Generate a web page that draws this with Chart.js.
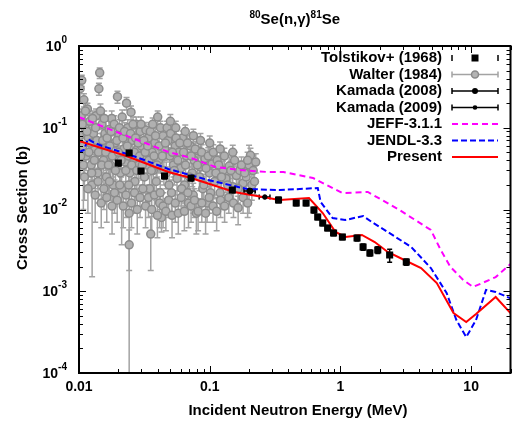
<!DOCTYPE html>
<html>
<head>
<meta charset="utf-8">
<script src="https://cdn.jsdelivr.net/npm/chart.js@4.4.1/dist/chart.umd.min.js"></script>
<style>
  body { margin: 0; background: #fff; }
  #wrap { width: 516px; height: 427px; }
</style>
</head>
<body>
<div id="wrap"><canvas id="xs" width="516" height="427"></canvas></div>
<script>
// energies in MeV, cross sections in barns

var jeffE  = [0.01, 0.0203, 0.0483, 0.072, 0.111, 0.171, 0.273, 0.366, 0.616, 1.035, 1.62, 2.83, 4.92, 5.85, 6.95, 8.71, 10.35, 12.3, 15.4, 20];
var jeffXS = [0.135, 0.0863, 0.0505, 0.0427, 0.0331, 0.0304, 0.0288, 0.0288, 0.0243, 0.0159, 0.0164, 0.00986, 0.00561, 0.0032, 0.00198, 0.00137, 0.00113, 0.00127, 0.00149, 0.00215];

var jendlE  = [0.01, 0.0109, 0.0117, 0.0132, 0.0151, 0.0273, 0.0483, 0.0966, 0.193, 0.342, 0.671, 0.705, 0.871, 1.09, 1.49, 1.74, 2.30, 3.48, 4.92, 6.49, 7.71, 9.17, 10.9, 13.0, 15.4, 20];
var jendlXS = [0.0505, 0.0534, 0.0728, 0.0651, 0.0598, 0.0439, 0.0313, 0.0230, 0.0178, 0.0173, 0.0183, 0.0124, 0.00787, 0.00744, 0.00832, 0.00703, 0.00531, 0.00348, 0.00192, 0.000953, 0.000445, 0.000275, 0.000445, 0.00104, 0.00098, 0.00082];

var presentE  = [0.01, 0.023, 0.0483, 0.072, 0.154, 0.23, 0.342, 0.575, 0.732, 0.917, 1.09, 1.46, 1.83, 2.30, 3.08, 4.14, 5.46, 7.33, 9.17, 10.9, 15.4, 20];
var presentXS = [0.0689, 0.0451, 0.0288, 0.0243, 0.0164, 0.0146, 0.0131, 0.0138, 0.00906, 0.00531, 0.00461, 0.00488, 0.0040, 0.00302, 0.00241, 0.00192, 0.00126, 0.000542, 0.000421, 0.000527, 0.000851, 0.00054];

var tolE   = [0.020, 0.0242, 0.0298, 0.0451, 0.072, 0.149, 0.336, 0.459, 0.546, 0.627, 0.67, 0.732, 0.798, 0.886, 1.035, 1.34, 1.49, 1.68, 1.93, 2.38, 3.19];
var tolXS  = [0.0371, 0.0491, 0.0296, 0.0257, 0.0243, 0.0173, 0.0131, 0.012, 0.012, 0.00986, 0.00809, 0.00684, 0.00594, 0.00516, 0.00461, 0.00448, 0.00348, 0.00294, 0.0032, 0.00277, 0.00228];
var tolErr = [0.003, 0.004, 0.0025, 0.002, 0.002, 0.0013, 0.001, 0.0009, 0.0009, 0.0008, 0.0006, 0.0005, 0.00045, 0.0004, 0.00035, 0.00035, 0.0003, 0.00025, 0.0003, 0.0005, 0.0002];

var kam08E = [0.203], kam08XS = [0.0168], kam08dE = [0.02];
var kam09E = [0.264], kam09XS = [0.0142], kam09dE = [0.025];

var walterE = [0.0102, 0.0104, 0.0105, 0.0107, 0.0109, 0.0111, 0.0113, 0.0116, 0.0118, 0.0121, 0.0124, 0.0126, 0.0129, 0.0132, 0.0135, 0.0139, 0.0142, 0.0144, 0.0147, 0.0150,
  0.0154, 0.0158, 0.0162, 0.0166, 0.0170, 0.0174, 0.0178, 0.0183, 0.0188, 0.0193, 0.0197, 0.0202, 0.0207, 0.0212, 0.0214, 0.0220, 0.0226, 0.0231, 0.0236, 0.0242, 0.0242,
  0.0245, 0.0250, 0.0256, 0.0262, 0.0268, 0.0274, 0.0280, 0.0287, 0.0294, 0.0301, 0.0309, 0.0317, 0.0325, 0.0331, 0.0339, 0.0347, 0.0354, 0.0362, 0.0370, 0.0380,
  0.0390, 0.0400, 0.0406, 0.0414, 0.0428, 0.0440, 0.0452, 0.0465, 0.0480, 0.0495, 0.0510, 0.0528, 0.0545, 0.0562, 0.0580, 0.0600, 0.0620, 0.0642, 0.0665, 0.0688,
  0.0710, 0.0735, 0.0760, 0.0790, 0.0820, 0.0850, 0.0885, 0.0920, 0.0955, 0.0995, 0.1040, 0.1090, 0.1140, 0.1200, 0.1260, 0.1330, 0.1410, 0.1500, 0.1600, 0.1700,
  0.1800, 0.1900, 0.2000, 0.2050, 0.2100,
  0.0101, 0.0103, 0.0106, 0.0108, 0.0112, 0.0115, 0.0119, 0.0123, 0.0127, 0.0131, 0.0134, 0.0137, 0.0141, 0.0146, 0.0149, 0.0152, 0.0156, 0.0160, 0.0164, 0.0168,
  0.0172, 0.0176, 0.0180, 0.0186, 0.0190, 0.0195, 0.0200, 0.0204, 0.0210, 0.0217, 0.0223, 0.0228, 0.0234, 0.0239, 0.0248, 0.0253, 0.0259, 0.0265, 0.0271, 0.0277,
  0.0284, 0.0291, 0.0298, 0.0305, 0.0313, 0.0321, 0.0335, 0.0343, 0.0351, 0.0358, 0.0366, 0.0375, 0.0385, 0.0395, 0.0410, 0.0420, 0.0434, 0.0446, 0.0458, 0.0472,
  0.0488, 0.0502, 0.0518, 0.0536, 0.0553, 0.0571, 0.0590, 0.0610, 0.0631, 0.0653, 0.0676, 0.0699, 0.0722, 0.0748, 0.0775, 0.0805, 0.0835, 0.0867, 0.0902, 0.0937,
  0.0975, 0.1015, 0.1065, 0.1115, 0.1170, 0.1230, 0.1295, 0.1370, 0.1450, 0.1550, 0.1650, 0.1750, 0.1850, 0.1950, 0.2150, 0.2200, 0.2250,
  0.050, 0.055, 0.065, 0.075, 0.085, 0.100, 0.120, 0.150,
  0.0110, 0.0117, 0.0125, 0.0133, 0.0140, 0.0148, 0.0155, 0.0163, 0.0171, 0.0179, 0.0187, 0.0196, 0.0205, 0.0218, 0.0229, 0.0240, 0.0252, 0.0266, 0.0279, 0.0293,
  0.0308, 0.0323, 0.0340, 0.0360, 0.0378, 0.0398, 0.0418, 0.0440, 0.0462, 0.0485, 0.0515, 0.0545, 0.0575, 0.0605, 0.0640, 0.0680, 0.0720, 0.0765, 0.0815, 0.0870,
  0.0930, 0.0990, 0.1060, 0.1130, 0.1210, 0.1300, 0.1400, 0.1520, 0.1650, 0.1800, 0.1950];
var walterXS = [0.30, 0.14, 0.38, 0.06, 0.22, 0.10, 0.045, 0.17, 0.075, 0.12, 0.035, 0.020, 0.085, 0.055, 0.14, 0.028, 0.30, 0.47, 0.065, 0.11,
  0.04, 0.085, 0.025, 0.055, 0.095, 0.035, 0.13, 0.02, 0.065, 0.045, 0.24, 0.08, 0.028, 0.018, 0.135, 0.055, 0.038, 0.20, 0.10, 0.009, 0.0037,
  0.028, 0.155, 0.07, 0.042, 0.022, 0.11, 0.055, 0.035, 0.09, 0.06, 0.045, 0.025, 0.094, 0.035, 0.075, 0.018, 0.005, 0.05, 0.03, 0.065,
  0.022, 0.135, 0.04, 0.012, 0.008, 0.08, 0.055, 0.028, 0.07, 0.045, 0.016, 0.035, 0.06, 0.024, 0.05, 0.032, 0.075, 0.02, 0.045, 0.012,
  0.06, 0.028, 0.04, 0.009, 0.052, 0.033, 0.018, 0.042, 0.012, 0.028, 0.036, 0.022, 0.04, 0.016, 0.03, 0.024, 0.034, 0.019, 0.026, 0.03,
  0.021, 0.025, 0.035, 0.046, 0.02,
  0.08, 0.045, 0.11, 0.035, 0.16, 0.09, 0.05, 0.065, 0.13, 0.04, 0.10, 0.07, 0.05, 0.16, 0.035, 0.07, 0.13, 0.05, 0.075, 0.035,
  0.06, 0.09, 0.045, 0.11, 0.03, 0.07, 0.05, 0.10, 0.04, 0.075, 0.09, 0.03, 0.06, 0.045, 0.085, 0.035, 0.11, 0.05, 0.075, 0.03,
  0.065, 0.045, 0.11, 0.035, 0.07, 0.05, 0.06, 0.04, 0.09, 0.03, 0.11, 0.045, 0.08, 0.035, 0.06, 0.10, 0.045, 0.03, 0.065, 0.10,
  0.02, 0.085, 0.05, 0.03, 0.075, 0.04, 0.065, 0.018, 0.05, 0.035, 0.065, 0.025, 0.045, 0.015, 0.055, 0.035, 0.025, 0.05, 0.02, 0.032,
  0.045, 0.016, 0.05, 0.028, 0.035, 0.025, 0.045, 0.02, 0.03, 0.04, 0.018, 0.035, 0.028, 0.04, 0.03, 0.022, 0.038,
  0.12, 0.10, 0.09, 0.08, 0.07, 0.065, 0.055, 0.05,
  0.025, 0.018, 0.028, 0.015, 0.022, 0.012, 0.018, 0.014, 0.022, 0.011, 0.016, 0.013, 0.02, 0.011, 0.015, 0.02, 0.012, 0.016, 0.01, 0.014,
  0.018, 0.011, 0.014, 0.01, 0.015, 0.0085, 0.016, 0.011, 0.0095, 0.013, 0.0085, 0.012, 0.009, 0.014, 0.0095, 0.016, 0.011, 0.013, 0.0095, 0.012,
  0.009, 0.014, 0.011, 0.0095, 0.013, 0.011, 0.014, 0.012, 0.0105, 0.014, 0.012];
var walterErr = [0.06, 0.03, 0.06, 0.015, 0.04, 0.025, 0.015, 0.03, 0.02, 0.03, 0.012, 0.0185, 0.02, 0.015, 0.03, 0.01, 0.05, 0.07, 0.02, 0.025,
  0.012, 0.02, 0.01, 0.015, 0.025, 0.012, 0.03, 0.009, 0.018, 0.013, 0.04, 0.02, 0.01, 0.0143, 0.03, 0.015, 0.012, 0.035, 0.025, 0.009, 0.0019,
  0.01, 0.03, 0.018, 0.012, 0.009, 0.025, 0.015, 0.011, 0.02, 0.016, 0.013, 0.009, 0.022, 0.011, 0.018, 0.008, 0.0032, 0.014, 0.01, 0.016,
  0.009, 0.025, 0.012, 0.006, 0.0027, 0.018, 0.015, 0.01, 0.016, 0.012, 0.007, 0.01, 0.015, 0.009, 0.013, 0.01, 0.016, 0.008, 0.012, 0.006,
  0.014, 0.009, 0.011, 0.004, 0.013, 0.01, 0.007, 0.011, 0.005, 0.009, 0.01, 0.008, 0.011, 0.006, 0.009, 0.008, 0.01, 0.007, 0.008, 0.009,
  0.007, 0.008, 0.026, 0.01, 0.007,
  0.02, 0.02, 0.03, 0.025, 0.04, 0.03, 0.025, 0.03, 0.03, 0.02, 0.03, 0.025, 0.02, 0.035, 0.02, 0.025, 0.03, 0.02, 0.025, 0.02,
  0.02, 0.025, 0.02, 0.03, 0.015, 0.02, 0.02, 0.025, 0.015, 0.02, 0.025, 0.015, 0.02, 0.015, 0.02, 0.012, 0.025, 0.015, 0.02, 0.012,
  0.018, 0.013, 0.025, 0.012, 0.018, 0.014, 0.015, 0.012, 0.02, 0.01, 0.022, 0.012, 0.018, 0.01, 0.015, 0.02, 0.012, 0.01, 0.015, 0.02,
  0.008, 0.018, 0.012, 0.01, 0.016, 0.011, 0.015, 0.007, 0.012, 0.01, 0.015, 0.008, 0.012, 0.006, 0.013, 0.01, 0.008, 0.012, 0.007, 0.009,
  0.012, 0.006, 0.012, 0.008, 0.01, 0.008, 0.011, 0.007, 0.009, 0.01, 0.006, 0.009, 0.008, 0.01, 0.008, 0.007, 0.01,
  0.025, 0.02, 0.018, 0.016, 0.015, 0.014, 0.012, 0.011,
  0.012, 0.009, 0.012, 0.008, 0.01, 0.006, 0.008, 0.007, 0.009, 0.006, 0.007, 0.006, 0.008, 0.005, 0.007, 0.008, 0.006, 0.007, 0.005, 0.006,
  0.007, 0.005, 0.006, 0.005, 0.006, 0.004, 0.006, 0.005, 0.004, 0.005, 0.004, 0.005, 0.004, 0.005, 0.004, 0.006, 0.004, 0.005, 0.004, 0.005,
  0.004, 0.005, 0.004, 0.004, 0.005, 0.004, 0.005, 0.004, 0.004, 0.005, 0.004];

var xTickVals = [0.01, 0.1, 1, 10];
var xTickLabels = ["0.01", "0.1", "1", "10"];
var yTickExps = [0, -1, -2, -3, -4];
var legendLabels = ["Tolstikov+ (1968)", "Walter (1984)", "Kamada (2008)", "Kamada (2009)", "JEFF-3.1.1", "JENDL-3.3", "Present"];

var FONT = "'Liberation Sans', Arial, sans-serif";

function pts(xs, ys) {
  return xs.map(function (x, i) { return { x: x, y: ys[i] }; });
}

function vbar(ctx, px, y1, y2, cap) {
  ctx.beginPath();
  ctx.moveTo(px, y1); ctx.lineTo(px, y2);
  ctx.moveTo(px - cap, y1); ctx.lineTo(px + cap, y1);
  ctx.moveTo(px - cap, y2); ctx.lineTo(px + cap, y2);
  ctx.stroke();
}

function hbar(ctx, x1, x2, py, cap) {
  ctx.beginPath();
  ctx.moveTo(x1, py); ctx.lineTo(x2, py);
  ctx.moveTo(x1, py - cap); ctx.lineTo(x1, py + cap);
  ctx.moveTo(x2, py - cap); ctx.lineTo(x2, py + cap);
  ctx.stroke();
}

var gnuplotLook = {
  id: "gnuplotLook",
  beforeDatasetsDraw: function (chart) {
    var ctx = chart.ctx, a = chart.chartArea, xs = chart.scales.x, ys = chart.scales.y;
    ctx.save();
    ctx.beginPath();
    ctx.rect(a.left, a.top, a.right - a.left, a.bottom - a.top);
    ctx.clip();
    // Walter error bars
    ctx.strokeStyle = "#a3a3a3";
    ctx.lineWidth = 1.5;
    walterE.forEach(function (e, i) {
      var lo = Math.max(walterXS[i] - walterErr[i], 1e-6);
      vbar(ctx, xs.getPixelForValue(e), ys.getPixelForValue(lo), ys.getPixelForValue(walterXS[i] + walterErr[i]), 3);
    });
    // Tolstikov error bars
    ctx.strokeStyle = "#000";
    ctx.lineWidth = 1.5;
    tolE.forEach(function (e, i) {
      vbar(ctx, xs.getPixelForValue(e), ys.getPixelForValue(tolXS[i] - tolErr[i]), ys.getPixelForValue(tolXS[i] + tolErr[i]), 2.5);
    });
    // Kamada energy bars
    [[kam08E, kam08XS, kam08dE], [kam09E, kam09XS, kam09dE]].forEach(function (k) {
      k[0].forEach(function (e, i) {
        hbar(ctx, xs.getPixelForValue(e - k[2][i]), xs.getPixelForValue(e + k[2][i]), ys.getPixelForValue(k[1][i]), 2.5);
      });
    });
    ctx.restore();
  },
  afterDatasetsDraw: function (chart) {
    var ctx = chart.ctx, a = chart.chartArea, xs = chart.scales.x, ys = chart.scales.y;
    ctx.save();
    ctx.strokeStyle = "#000";
    ctx.lineWidth = 1;
    // x ticks (bottom and top, pointing inward)
    for (var d = -2; d <= 1; d++) {
      for (var m = 1; m <= 9; m++) {
        var v = m * Math.pow(10, d);
        if (v > xs.max) break;
        var px = Math.round(xs.getPixelForValue(v)) + 0.5;
        var len = m === 1 ? 7 : 4;
        ctx.beginPath();
        ctx.moveTo(px, a.bottom); ctx.lineTo(px, a.bottom - len);
        ctx.moveTo(px, a.top); ctx.lineTo(px, a.top + len);
        ctx.stroke();
      }
    }
    // y ticks (left and right)
    for (var dy = -4; dy <= 0; dy++) {
      for (var my = 1; my <= 9; my++) {
        var vy = my * Math.pow(10, dy);
        if (vy > ys.max) break;
        var py = Math.round(ys.getPixelForValue(vy)) + 0.5;
        var leny = my === 1 ? 7 : 4;
        ctx.beginPath();
        ctx.moveTo(a.left, py); ctx.lineTo(a.left + leny, py);
        ctx.moveTo(a.right, py); ctx.lineTo(a.right - leny, py);
        ctx.stroke();
      }
    }
    // frame
    ctx.lineWidth = 2;
    ctx.strokeRect(a.left, a.top, a.right - a.left, a.bottom - a.top);
    ctx.restore();
  },
  afterDraw: function (chart) {
    var ctx = chart.ctx, a = chart.chartArea, xs = chart.scales.x, ys = chart.scales.y;
    ctx.save();
    ctx.fillStyle = "#000";

    // title with superscripts
    var parts = [["80", 10, -6], ["Se(n,\u03b3)", 15, 0], ["81", 10, -6], ["Se", 15, 0]];
    var total = 0;
    parts.forEach(function (p) { ctx.font = "bold " + p[1] + "px " + FONT; total += ctx.measureText(p[0]).width; });
    var tx = (a.left + a.right) / 2 - total / 2;
    ctx.textBaseline = "alphabetic";
    ctx.textAlign = "left";
    parts.forEach(function (p) {
      ctx.font = "bold " + p[1] + "px " + FONT;
      ctx.fillText(p[0], tx, 24 + p[2]);
      tx += ctx.measureText(p[0]).width;
    });

    // x tick labels
    ctx.font = "bold 14px " + FONT;
    ctx.textAlign = "center";
    ctx.textBaseline = "middle";
    xTickVals.forEach(function (v, i) {
      ctx.fillText(xTickLabels[i], xs.getPixelForValue(v), 387);
    });

    // y tick labels: 10^n
    yTickExps.forEach(function (n) {
      var py = ys.getPixelForValue(Math.pow(10, n));
      var exp = String(n);
      ctx.font = "bold 10px " + FONT;
      var ew = ctx.measureText(exp).width;
      ctx.font = "bold 14px " + FONT;
      var bw = ctx.measureText("10").width;
      var right = 67;
      ctx.textAlign = "left";
      ctx.textBaseline = "middle";
      ctx.fillText("10", right - ew - bw, py + 1);
      ctx.font = "bold 10px " + FONT;
      ctx.fillText(exp, right - ew, py - 6);
    });

    // axis titles
    ctx.font = "bold 15px " + FONT;
    ctx.textAlign = "center";
    ctx.textBaseline = "middle";
    ctx.fillText("Incident Neutron Energy (MeV)", 298, 411);
    ctx.save();
    ctx.translate(23, 208);
    ctx.rotate(-Math.PI / 2);
    ctx.fillText("Cross Section (b)", 0, 0);
    ctx.restore();

    // legend (gnuplot style, top right)
    var rowY = [58, 74.5, 91, 107.5, 124, 140.5, 157];
    var x1 = 452, x2 = 498, xm = 475;
    ctx.font = "bold 15px " + FONT;
    ctx.textAlign = "right";
    ctx.textBaseline = "middle";
    legendLabels.forEach(function (t, i) { ctx.fillText(t, 442, rowY[i]); });

    ctx.lineWidth = 1.5;
    // Tolstikov: caps + square
    ctx.strokeStyle = "#000";
    ctx.beginPath();
    ctx.moveTo(x1, rowY[0] - 3); ctx.lineTo(x1, rowY[0] + 3);
    ctx.moveTo(x2, rowY[0] - 3); ctx.lineTo(x2, rowY[0] + 3);
    ctx.stroke();
    ctx.fillRect(xm - 3.5, rowY[0] - 3.5, 7, 7);
    // Walter
    ctx.strokeStyle = "#a3a3a3";
    hbar(ctx, x1, x2, rowY[1], 3);
    ctx.beginPath();
    ctx.arc(xm, rowY[1], 3.5, 0, Math.PI * 2);
    ctx.fillStyle = "#b4b4b4";
    ctx.fill();
    ctx.strokeStyle = "#8a8a8a";
    ctx.stroke();
    // Kamada
    ctx.strokeStyle = "#000";
    ctx.fillStyle = "#000";
    hbar(ctx, x1, x2, rowY[2], 3);
    ctx.beginPath(); ctx.arc(xm, rowY[2], 3, 0, Math.PI * 2); ctx.fill();
    hbar(ctx, x1, x2, rowY[3], 3);
    ctx.beginPath(); ctx.arc(xm, rowY[3], 2.3, 0, Math.PI * 2); ctx.fill();
    // lines
    ctx.lineWidth = 2;
    [["#ff00ff", [6, 4]], ["#0000ff", [6, 3]], ["#ff0000", []]].forEach(function (s, i) {
      ctx.strokeStyle = s[0];
      ctx.setLineDash(s[1]);
      ctx.beginPath();
      ctx.moveTo(x1, rowY[4 + i]); ctx.lineTo(x2, rowY[4 + i]);
      ctx.stroke();
    });
    ctx.restore();
  }
};

var ctx = document.getElementById("xs").getContext("2d");

var chart = new Chart(ctx, {
  type: "scatter",
  data: {
    datasets: [
      {
        label: "Tolstikov+ (1968)",
        data: pts(tolE, tolXS),
        pointStyle: "rect",
        pointRadius: 5,
        backgroundColor: "#000",
        borderColor: "#000",
        borderWidth: 0,
        order: 0,
      },
      {
        label: "Kamada (2008)",
        data: pts(kam08E, kam08XS),
        pointRadius: 3,
        backgroundColor: "#000",
        borderColor: "#000",
        order: 1,
      },
      {
        label: "Kamada (2009)",
        data: pts(kam09E, kam09XS),
        pointRadius: 2.3,
        backgroundColor: "#000",
        borderColor: "#000",
        order: 1,
      },
      {
        label: "Present",
        data: pts(presentE, presentXS),
        showLine: true,
        borderColor: "#ff0000",
        borderWidth: 2,
        pointRadius: 0,
        order: 2,
      },
      {
        label: "JENDL-3.3",
        data: pts(jendlE, jendlXS),
        showLine: true,
        borderColor: "#0000ff",
        borderDash: [6, 3],
        borderWidth: 2,
        pointRadius: 0,
        order: 3,
      },
      {
        label: "JEFF-3.1.1",
        data: pts(jeffE, jeffXS),
        showLine: true,
        borderColor: "#ff00ff",
        borderDash: [6, 4],
        borderWidth: 2,
        pointRadius: 0,
        order: 4,
      },
      {
        label: "Walter (1984)",
        data: pts(walterE, walterXS),
        pointRadius: 4,
        backgroundColor: "#b0b0b0",
        borderColor: "#8c8c8c",
        borderWidth: 1.5,
        order: 10,
      },
    ],
  },
  options: {
    responsive: false,
    animation: false,
    events: [],
    layout: { padding: { left: 79, top: 46, right: 0, bottom: 54 } },
    plugins: {
      legend: { display: false },
      tooltip: { enabled: false },
      title: { display: false },
    },
    scales: {
      x: { type: "logarithmic", min: 0.01, max: 20, display: false },
      y: { type: "logarithmic", min: 0.0001, max: 1, display: false },
    },
  },
  plugins: [gnuplotLook],
});
</script>
</body>
</html>
